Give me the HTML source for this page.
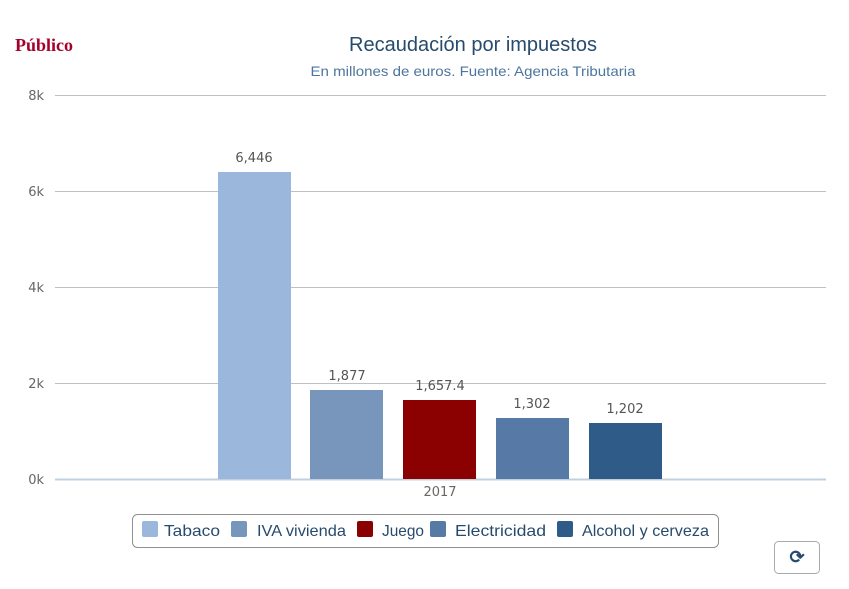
<!DOCTYPE html>
<html><head><meta charset="utf-8"><style>
body{margin:0;background:#fff;}
svg{display:block;font-family:"Liberation Sans",sans-serif;}
</style></head><body>
<svg width="849" height="589" viewBox="0 0 849 589">
<text x="15" y="51" font-family="Liberation Serif,serif" font-weight="bold" font-size="18" fill="#a5002c" textLength="58" lengthAdjust="spacingAndGlyphs">Público</text>
<text x="473" y="51" text-anchor="middle" font-size="20" fill="#274b6d" textLength="248" lengthAdjust="spacingAndGlyphs">Recaudación por impuestos</text>
<text x="473" y="76" text-anchor="middle" font-size="14" fill="#4d759e" textLength="325" lengthAdjust="spacingAndGlyphs">En millones de euros. Fuente: Agencia Tributaria</text>
<g stroke="#c0c0c0" stroke-width="1">
<line x1="55" y1="95.5" x2="826" y2="95.5"/>
<line x1="55" y1="191.5" x2="826" y2="191.5"/>
<line x1="55" y1="287.5" x2="826" y2="287.5"/>
<line x1="55" y1="383.5" x2="826" y2="383.5"/>
</g>
<line x1="55" y1="479.5" x2="826" y2="479.5" stroke="#c0d0e0" stroke-width="2"/>
<g font-size="13" fill="#666" text-anchor="end" font-family="DejaVu Sans,sans-serif">
<text x="44" y="100">8k</text><text x="44" y="196">6k</text><text x="44" y="292">4k</text><text x="44" y="388">2k</text><text x="44" y="484">0k</text>
</g>
<rect x="218" y="172" width="73" height="307" fill="#9bb7dc"/>
<rect x="310" y="390" width="73" height="89" fill="#7896bb"/>
<rect x="403" y="400" width="73" height="79" fill="#8b0000"/>
<rect x="496" y="418" width="73" height="61" fill="#5679a6"/>
<rect x="589" y="423" width="73" height="56" fill="#2f5b89"/>
<g font-size="13" fill="#555" text-anchor="middle" font-family="DejaVu Sans,sans-serif">
<text x="254" y="162">6,446</text><text x="347" y="380">1,877</text><text x="440" y="390">1,657.4</text><text x="532" y="408">1,302</text><text x="625" y="413">1,202</text>
<text x="440" y="496" fill="#666">2017</text>
</g>
<rect x="132.5" y="514.5" width="586" height="33" rx="5" fill="#fff" stroke="#909090"/>
<g font-size="16" fill="#274b6d" lengthAdjust="spacingAndGlyphs">
<rect x="142" y="521" width="16" height="16" rx="2" fill="#9bb7dc"/><text x="164" y="536" textLength="56" lengthAdjust="spacingAndGlyphs">Tabaco</text>
<rect x="231" y="521" width="16" height="16" rx="2" fill="#7896bb"/><text x="257" y="536" textLength="89" lengthAdjust="spacingAndGlyphs">IVA vivienda</text>
<rect x="357" y="521" width="16" height="16" rx="2" fill="#8b0000"/><text x="382" y="536" textLength="42" lengthAdjust="spacingAndGlyphs">Juego</text>
<rect x="430" y="521" width="16" height="16" rx="2" fill="#5679a6"/><text x="455" y="536" textLength="91" lengthAdjust="spacingAndGlyphs">Electricidad</text>
<rect x="557" y="521" width="16" height="16" rx="2" fill="#2f5b89"/><text x="582" y="536" textLength="127" lengthAdjust="spacingAndGlyphs">Alcohol y cerveza</text>
</g>
<rect x="774.5" y="541.5" width="45" height="32" rx="4" fill="#fff" stroke="#aaa"/>
<text x="797" y="563" text-anchor="middle" font-size="18" font-weight="bold" fill="#274b6d">⟳</text>
</svg>
</body></html>
